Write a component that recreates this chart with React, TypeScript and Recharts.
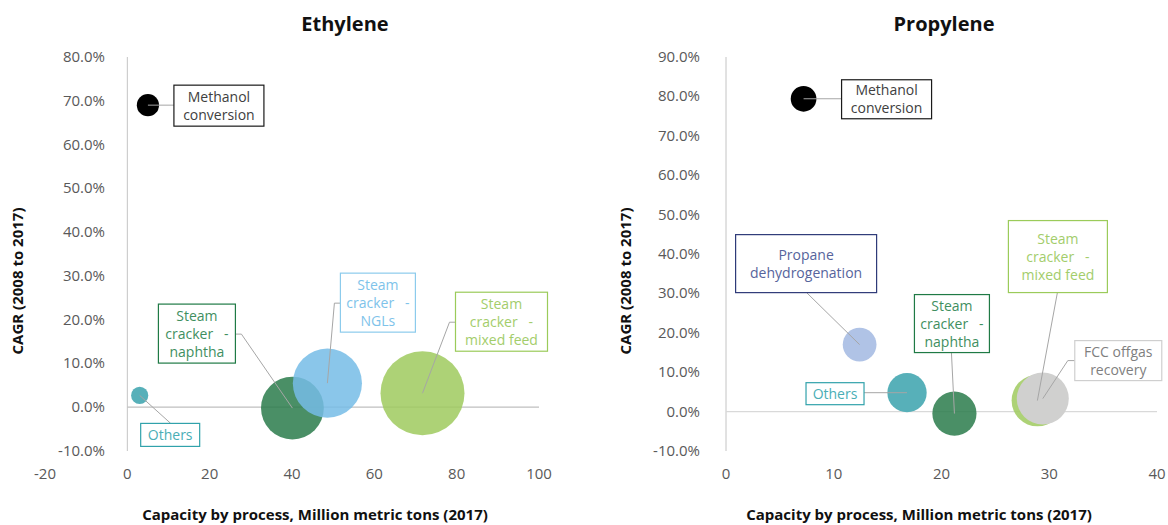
import { ScatterChart, Scatter, XAxis, YAxis, ZAxis, ReferenceLine } from "recharts";

// Ethylene: capacity (Mt, 2017) vs CAGR 2008-2017 (%); bubble size = capacity
const ethyleneProcesses = [
  "Methanol conversion",
  "Others",
  "Steam cracker - naphtha",
  "Steam cracker - NGLs",
  "Steam cracker - mixed feed",
];
const ethyleneCapacity = [5.0, 3.0, 40.1, 48.6, 71.7];
const ethyleneCagr = [69.0, 2.7, -0.2, 5.5, 3.2];
const ethyleneXTicks = [-20, 0, 20, 40, 60, 80, 100];
const ethyleneYTicks = [-10, 0, 10, 20, 30, 40, 50, 60, 70, 80];

// Propylene
const propyleneProcesses = [
  "Methanol conversion",
  "Propane dehydrogenation",
  "Others",
  "Steam cracker - naphtha",
  "Steam cracker - mixed feed",
  "FCC offgas recovery",
];
const propyleneCapacity = [7.2, 12.4, 16.8, 21.2, 28.9, 29.4];
const propyleneCagr = [79.4, 17.0, 4.8, -0.5, 2.8, 3.3];
const propyleneXTicks = [0, 10, 20, 30, 40];
const propyleneYTicks = [-10, 0, 10, 20, 30, 40, 50, 60, 70, 80, 90];

const FONT = "'Open Sans', sans-serif";
const AXIS_GREY = "#595959";

type Style = { fill: string; border: string; text: string; see?: boolean };
const STYLES: Record<string, Style> = {
  "Methanol conversion": { fill: "#000000", border: "#1a1a1a", text: "#404040" },
  Others: { fill: "#57b0b9", border: "#31a2ab", text: "#4aaeb6" },
  "Steam cracker - naphtha": { fill: "#2a7b4b", border: "#1f7a45", text: "#3f8f5f", see: true },
  "Steam cracker - NGLs": { fill: "#76bce6", border: "#8ccbec", text: "#7ec3ea", see: true },
  "Steam cracker - mixed feed": { fill: "#9fca5e", border: "#9bcb5a", text: "#a3cd6b", see: true },
  "Propane dehydrogenation": { fill: "#b0c3e6", border: "#2e3a78", text: "#56649c" },
  "FCC offgas recovery": { fill: "#d0d0cf", border: "#cfcfcf", text: "#7f7f7f" },
};

type Callout = { lines: string[]; dx: number; dy: number; w: number; h: number; leader: number[][] };

// callout boxes, offsets in px from the bubble centre
const ETHYLENE_CALLOUTS: Record<string, Callout> = {
  "Methanol conversion": { lines: ["Methanol", "conversion"], dx: 26, dy: -20, w: 90, h: 41, leader: [[26, 0]] },
  Others: { lines: ["Others"], dx: 1, dy: 28, w: 59, h: 23, leader: [[31, 28]] },
  "Steam cracker - naphtha": { lines: ["Steam", "cracker   -", "naphtha"], dx: -134, dy: -104, w: 77, h: 59, leader: [[-51, -74], [-57, -74]] },
  "Steam cracker - NGLs": { lines: ["Steam", "cracker   -", "NGLs"], dx: 13, dy: -110, w: 75, h: 59, leader: [[7, -80], [13, -80]] },
  "Steam cracker - mixed feed": { lines: ["Steam", "cracker   -", "mixed feed"], dx: 33, dy: -101, w: 92, h: 59, leader: [[27, -71], [33, -71]] },
};

const PROPYLENE_CALLOUTS: Record<string, Callout> = {
  "Methanol conversion": { lines: ["Methanol", "conversion"], dx: 38, dy: -19, w: 90, h: 39, leader: [[38, 0]] },
  "Propane dehydrogenation": { lines: ["Propane", "dehydrogenation"], dx: -124, dy: -110, w: 141, h: 58, leader: [[-53, -52]] },
  Others: { lines: ["Others"], dx: -101, dy: -10, w: 58, h: 22, leader: [[-43, 0]] },
  "Steam cracker - naphtha": { lines: ["Steam", "cracker   -", "naphtha"], dx: -40, dy: -119, w: 75, h: 58, leader: [[-3, -61]] },
  "Steam cracker - mixed feed": { lines: ["Steam", "cracker   -", "mixed feed"], dx: -29, dy: -180, w: 99, h: 72, leader: [[20, -108]] },
  "FCC offgas recovery": { lines: ["FCC offgas", "recovery"], dx: 32, dy: -58, w: 87, h: 40, leader: [[25, -38], [32, -38]] },
};

const bubbleShape = (opacity: number) => (props: any) => {
  const { cx, cy, width, payload } = props;
  const st = STYLES[payload.name];
  return <circle cx={cx} cy={cy} r={width / 2} fill={st.fill} fillOpacity={st.see ? opacity : 1} />;
};

const calloutShape = (callouts: Record<string, Callout>) => (props: any) => {
  const { cx, cy, payload } = props;
  const c = callouts[payload.name];
  const st = STYLES[payload.name];
  const pts = [[0, 0], ...c.leader].map(([x, y]) => `${cx + x},${cy + y}`).join(" ");
  const midX = cx + c.dx + c.w / 2;
  const firstY = cy + c.dy + c.h / 2 - ((c.lines.length - 1) * 18) / 2 + 5;
  return (
    <g>
      <polyline points={pts} fill="none" stroke="#a6a6a6" strokeWidth={1} />
      <rect x={cx + c.dx} y={cy + c.dy} width={c.w} height={c.h} fill="#fff" stroke={st.border} strokeWidth={1.2} />
      <text textAnchor="middle" fill={st.text} fontSize={14} fontFamily={FONT} style={{ whiteSpace: "pre" }}>
        {c.lines.map((l, i) => (
          <tspan key={i} x={midX} y={firstY + i * 18}>
            {l}
          </tspan>
        ))}
      </text>
    </g>
  );
};

const yTick = (labelX: number) => (props: any) => (
  <text x={labelX} y={props.y} dy={5} textAnchor="end" fill={AXIS_GREY} fontSize={15} fontFamily={FONT}>
    {`${Number(props.payload.value).toFixed(1)}%`}
  </text>
);

interface PanelProps {
  title: string;
  titleX: number;
  processes: string[];
  capacity: number[];
  cagr: number[];
  xTicks: number[];
  yTicks: number[];
  zMax: number;
  zArea: number;
  margin: { top: number; right: number; bottom: number; left: number };
  yLabelX: number;
  yTitleX: number;
  xTitleX: number;
  lineColor: string;
  callouts: Record<string, Callout>;
  offsetX: number;
}

function Panel(p: PanelProps) {
  const rows = p.processes.map((name, i) => ({ name, x: p.capacity[i], y: p.cagr[i], z: p.capacity[i] }));
  const xDomain = [p.xTicks[0], p.xTicks[p.xTicks.length - 1]];
  const yDomain = [p.yTicks[0], p.yTicks[p.yTicks.length - 1]];
  return (
    <div style={{ position: "absolute", left: p.offsetX, top: 0, width: 584, height: 525 }}>
      <ScatterChart width={584} height={525} margin={p.margin}>
        <XAxis
          type="number"
          dataKey="x"
          domain={xDomain}
          ticks={p.xTicks}
          interval={0}
          height={30}
          axisLine={false}
          tickLine={false}
          tickSize={0}
          tickMargin={17}
          tick={{ fill: AXIS_GREY, fontSize: 15, fontFamily: FONT }}
        />
        <YAxis
          type="number"
          dataKey="y"
          domain={yDomain}
          ticks={p.yTicks}
          interval={0}
          width={10}
          axisLine={false}
          tickLine={false}
          tick={yTick(p.yLabelX)}
        />
        <ZAxis type="number" dataKey="z" domain={[0, p.zMax]} range={[0, p.zArea]} />
        <ReferenceLine segment={[{ x: 0, y: yDomain[0] }, { x: 0, y: yDomain[1] }]} stroke="#c4c4c4" strokeWidth={1} />
        <ReferenceLine segment={[{ x: 0, y: 0 }, { x: xDomain[1], y: 0 }]} stroke={p.lineColor} strokeWidth={1.3} />
        <Scatter data={rows} shape={bubbleShape(0.85)} isAnimationActive={false} />
        <Scatter data={rows} shape={calloutShape(p.callouts)} isAnimationActive={false} />
      </ScatterChart>
      <div
        style={{
          position: "absolute",
          left: p.titleX - 100,
          width: 200,
          top: 10,
          lineHeight: "28px",
          textAlign: "center",
          fontFamily: FONT,
          fontWeight: 700,
          fontSize: 20,
          color: "#111",
        }}
      >
        {p.title}
      </div>
      <div
        style={{
          position: "absolute",
          left: p.xTitleX - 250,
          width: 500,
          top: 504,
          lineHeight: "20px",
          textAlign: "center",
          fontFamily: FONT,
          fontWeight: 700,
          fontSize: 15,
          color: "#111",
          whiteSpace: "nowrap",
        }}
      >
        Capacity by process, Million metric tons (2017)
      </div>
      <div
        style={{
          position: "absolute",
          left: p.yTitleX,
          top: 281,
          transform: "translate(-50%, -50%) rotate(-90deg)",
          lineHeight: "20px",
          fontFamily: FONT,
          fontWeight: 700,
          fontSize: 15,
          color: "#111",
          whiteSpace: "nowrap",
        }}
      >
        CAGR (2008 to 2017)
      </div>
    </div>
  );
}

export default function App() {
  return (
    <div style={{ position: "absolute", left: 0, top: 0, width: 1168, height: 525, background: "#fff", overflow: "hidden" }}>
      <Panel
        title="Ethylene"
        titleX={345}
        processes={ethyleneProcesses}
        capacity={ethyleneCapacity}
        cagr={ethyleneCagr}
        xTicks={ethyleneXTicks}
        yTicks={ethyleneYTicks}
        zMax={100}
        zArea={7730}
        margin={{ top: 57, right: 45, bottom: 44, left: 35 }}
        yLabelX={105}
        yTitleX={17}
        xTitleX={315}
        lineColor="#bfbfbf"
        callouts={ETHYLENE_CALLOUTS}
        offsetX={0}
      />
      <Panel
        title="Propylene"
        titleX={360}
        processes={propyleneProcesses}
        capacity={propyleneCapacity}
        cagr={propyleneCagr}
        xTicks={propyleneXTicks}
        yTicks={propyleneYTicks}
        zMax={40}
        zArea={2890}
        margin={{ top: 57, right: 11, bottom: 44, left: 132 }}
        yLabelX={116}
        yTitleX={41}
        xTitleX={335}
        lineColor="#d9d9d9"
        callouts={PROPYLENE_CALLOUTS}
        offsetX={584}
      />
    </div>
  );
}
